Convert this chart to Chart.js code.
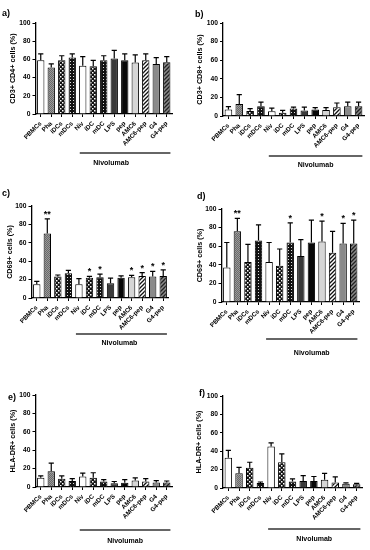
<!DOCTYPE html>
<html>
<head>
<meta charset="utf-8">
<script src="https://cdn.jsdelivr.net/npm/chart.js@4.4.1/dist/chart.umd.min.js"></script>
<style>
  body { margin: 0; background: #fff; width: 370px; height: 550px; position: relative; overflow: hidden; }
  canvas { position: absolute; }
</style>
</head>
<body>
<script>
const categories = ['PBMCs', 'Pha', 'iDCs', 'mDCs', 'Niv', 'iDC', 'mDC', 'LPS', 'pep', 'AMC6', 'AMC6-pep', 'G4', 'G4-pep'];
const yTicks = [0, 20, 40, 60, 80, 100];

// a) CD3+ CD4+
const cd4Mean = [59, 51, 59, 62, 53, 52.5, 59, 61, 59, 56.5, 59, 55, 57];
const cd4Sd = [7, 4, 5, 4, 10, 6.5, 5, 9, 7, 8.5, 7, 7, 6];
// b) CD3+ CD8+
const cd8Mean = [7, 13, 5.5, 10.5, 5, 3.5, 8, 6, 7, 6.5, 9.5, 10.5, 10.5];
const cd8Sd = [3, 10, 2.5, 4.5, 3.5, 2.5, 1.5, 3.5, 2, 2.5, 4.5, 4.5, 4.5];
// c) CD69+
const cd69cMean = [15, 70, 23.5, 27, 15, 22, 22.5, 16, 22, 22.5, 24, 23.5, 24];
const cd69cSd = [3, 16, 1.5, 3, 6, 1.5, 3.5, 5.5, 2, 2, 3.5, 5.5, 6.5];
const cd69cStars = ['', '**', '', '', '', '*', '*', '', '', '*', '*', '*', '*'];
// d) CD69+
const cd69dMean = [37, 76, 43, 66, 43, 39, 64, 49.5, 64, 65, 53, 63, 63];
const cd69dSd = [27, 14, 19, 17, 21, 18, 21, 17.5, 24, 22, 23, 21.5, 25];
const cd69dStars = ['', '**', '', '', '', '', '*', '', '', '*', '', '*', '*'];
// e) HLA-DR+
const hlaEMean = [10, 17, 9, 6.5, 11.5, 10, 6, 4, 4.5, 7, 6, 5, 5];
const hlaESd = [2, 9, 3, 2.5, 3.5, 5.5, 2, 2, 3.5, 3, 3, 2, 1.5];
// f) HLA-DR+
const hlaFMean = [33, 16, 22, 5.5, 45, 28, 7, 7.5, 7.5, 9, 6, 4.5, 4];
const hlaFSd = [8, 6.5, 6, 1, 4, 9, 3, 6, 5, 7, 6, 1, 1];

const FONT = "'Liberation Sans', Arial, sans-serif";

function makePattern(size, draw) {
    const c = document.createElement('canvas');
    c.width = size; c.height = size;
    const g = c.getContext('2d');
    draw(g, size);
    return g.createPattern(c, 'repeat');
}

const phaFill = makePattern(2, (g) => {
    g.fillStyle = '#9a9a9a'; g.fillRect(0, 0, 2, 2);
    g.fillStyle = '#6a6a6a'; g.fillRect(0, 0, 1, 1); g.fillRect(1, 1, 1, 1);
});
const bigDots = makePattern(4, (g) => {
    g.fillStyle = '#111'; g.fillRect(0, 0, 4, 4);
    g.fillStyle = '#fff';
    g.fillRect(0, 0, 1.5, 1.5); g.fillRect(2, 2, 1.5, 1.5);
});
const smallDots = makePattern(3, (g) => {
    g.fillStyle = '#111'; g.fillRect(0, 0, 3, 3);
    g.fillStyle = '#ddd'; g.fillRect(1, 1, 1, 1);
});
function stripes(bg, fg) {
    return makePattern(4, (g) => {
        g.fillStyle = bg; g.fillRect(0, 0, 4, 4);
        g.strokeStyle = fg; g.lineWidth = 1.3;
        g.beginPath();
        g.moveTo(-1, 5); g.lineTo(5, -1);
        g.moveTo(-1, 1); g.lineTo(1, -1);
        g.moveTo(3, 5); g.lineTo(5, 3);
        g.stroke();
    });
}
const barFills = ['#ffffff', phaFill, bigDots, smallDots, '#ffffff', bigDots, smallDots,
    '#3a3a3a', '#080808', '#d6d6d6', stripes('#ffffff', '#111'), '#8a8a8a', stripes('#8a8a8a', '#222')];

// panel geometry (page px): canvas x/y/h, chart area L/T/R/B
const panels = [
    { id: 'a)', title: 'CD3+ CD4+ cells (%)', mean: cd4Mean, sd: cd4Sd, stars: null,
      x: 0, y: 0, h: 180, L: 35.5, T: 23, R: 172, B: 114, tPad: 8.8, lbl: [2, 16], lineOff: 39, textOff: 49, textDx: -14 },
    { id: 'b)', title: 'CD3+ CD8+ cells (%)', mean: cd8Mean, sd: cd8Sd, stars: null,
      x: 185, y: 0, h: 180, L: 223, T: 23, R: 364, B: 116, tPad: 10.8, lbl: [10, 17], lineOff: 40, textOff: 49, textDx: 0 },
    { id: 'c)', title: 'CD69+ cells (%)', mean: cd69cMean, sd: cd69cSd, stars: cd69cStars,
      x: 0, y: 180, h: 185, L: 31.5, T: 206, R: 168.5, B: 298, tPad: 5.8, lbl: [2, 16], lineOff: 36, textOff: 45, textDx: -2 },
    { id: 'd)', title: 'CD69+ cells (%)', mean: cd69dMean, sd: cd69dSd, stars: cd69dStars,
      x: 185, y: 180, h: 185, L: 221.5, T: 209, R: 359, B: 302, tPad: 10.8, lbl: [12, 19], lineOff: 37, textOff: 51, textDx: 0 },
    { id: 'e)', title: 'HLA-DR+ cells (%)', mean: hlaEMean, sd: hlaESd, stars: null,
      x: 0, y: 365, h: 185, L: 35.5, T: 395, R: 172, B: 487, tPad: 8.5, lbl: [8, 35], lineOff: 43, textOff: 54, textDx: 0 },
    { id: 'f)', title: 'HLA-DR+ cells (%)', mean: hlaFMean, sd: hlaFSd, stars: null,
      x: 185, y: 365, h: 185, L: 223, T: 396, R: 362, B: 488, tPad: 9.8, lbl: [14, 31], lineOff: 41, textOff: 51, textDx: 0 }
];

const extras = {
    id: 'extras',
    afterDatasetsDraw(chart, args, opts) {
        const { ctx, scales: { x, y } } = chart;
        const p = opts.panel;
        const bars = chart.getDatasetMeta(0).data;
        ctx.save();
        ctx.strokeStyle = '#000';
        ctx.fillStyle = '#000';
        ctx.lineWidth = 1.2;
        bars.forEach((bar, i) => {
            const top = y.getPixelForValue(p.mean[i] + p.sd[i]);
            ctx.beginPath();
            ctx.moveTo(bar.x, bar.y);
            ctx.lineTo(bar.x, top);
            ctx.moveTo(bar.x - 2.6, top);
            ctx.lineTo(bar.x + 2.6, top);
            ctx.stroke();
            if (p.stars && p.stars[i]) {
                ctx.font = 'bold 9px ' + FONT;
                ctx.textAlign = 'center';
                ctx.textBaseline = 'alphabetic';
                ctx.fillText(p.stars[i], bar.x, top - 2);
            }
        });
        // Nivolumab bracket
        const first = bars[4], last = bars[bars.length - 1];
        const x0 = first.x - 3, x1 = last.x + last.width / 2;
        const ly = chart.chartArea.bottom + p.lineOff;
        ctx.strokeStyle = '#333';
        ctx.lineWidth = 1.5;
        ctx.beginPath();
        ctx.moveTo(x0, ly);
        ctx.lineTo(x1, ly);
        ctx.stroke();
        ctx.font = 'bold 7px ' + FONT;
        ctx.textAlign = 'center';
        ctx.textBaseline = 'middle';
        ctx.fillText('Nivolumab', (x0 + x1) / 2 + p.textDx, chart.chartArea.bottom + p.textOff);
        // panel letter
        ctx.font = 'bold 9px ' + FONT;
        ctx.textAlign = 'left';
        ctx.textBaseline = 'alphabetic';
        ctx.fillText(p.id, p.lbl[0], p.lbl[1]);
        ctx.restore();
    }
};

panels.forEach((p) => {
    const cv = document.createElement('canvas');
    cv.width = 185; cv.height = p.h;
    cv.style.left = p.x + 'px';
    cv.style.top = p.y + 'px';
    document.body.appendChild(cv);

    new Chart(cv.getContext('2d'), {
        type: 'bar',
        data: {
            labels: categories,
            datasets: [{
                data: p.mean,
                backgroundColor: barFills,
                borderColor: '#000',
                borderWidth: 1,
                barPercentage: 0.7,
                categoryPercentage: 1
            }]
        },
        options: {
            responsive: false,
            animation: false,
            layout: { padding: { left: 0, top: p.T - p.y, right: p.x + 185 - p.R, bottom: 0 } },
            plugins: {
                legend: { display: false },
                tooltip: { enabled: false },
                extras: { panel: p }
            },
            scales: {
                x: {
                    afterFit: (s) => { s.height = p.y + p.h - p.B; },
                    grid: { offset: false, drawOnChartArea: false, tickLength: 3, color: '#000', lineWidth: 1 },
                    border: { color: '#000', width: 1.3 },
                    ticks: {
                        autoSkip: false, maxRotation: 45, minRotation: 45, padding: 3,
                        color: '#000', font: { family: FONT, size: 6.3, weight: 'bold' }
                    }
                },
                y: {
                    min: 0, max: 100,
                    afterFit: (s) => { s.width = p.L - p.x; },
                    afterBuildTicks: (s) => { s.ticks = yTicks.map((v) => ({ value: v })); },
                    grid: { drawOnChartArea: false, tickLength: 3, color: '#000', lineWidth: 1 },
                    border: { color: '#000', width: 1.3 },
                    ticks: { padding: 2, color: '#000', font: { family: FONT, size: 6.7, weight: 'bold' } },
                    title: {
                        display: true, text: p.title, color: '#000',
                        padding: { top: p.tPad, bottom: 0 },
                        font: { family: FONT, size: 7.2, weight: 'bold' }
                    }
                }
            }
        },
        plugins: [extras]
    });
});
</script>
</body>
</html>
